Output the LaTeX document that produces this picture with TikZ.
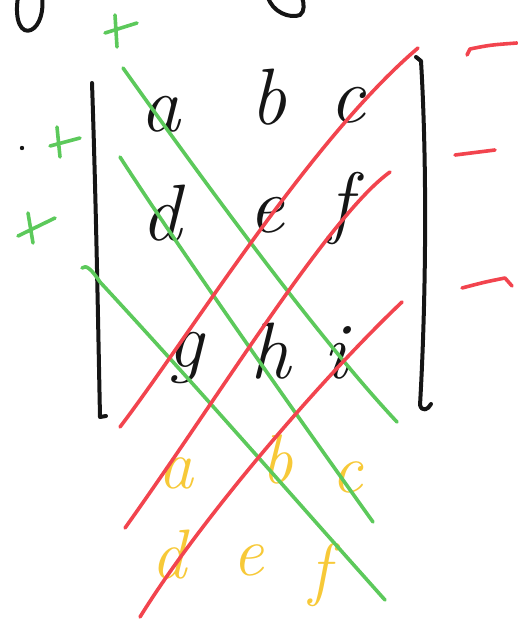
\documentclass[tikz,border=0pt]{standalone}
\usepackage{xcolor}
\definecolor{inkBlack} {HTML}{151515}
\definecolor{inkGreen} {HTML}{5CC95B}
\definecolor{inkRed}   {HTML}{F2444E}
\definecolor{inkYellow}{HTML}{F7C938}
\usetikzlibrary{positioning, calc}
\tikzset{
    pen/.style={line width=4pt, line cap=round, line join=round},
    blackpen/.style={pen, inkBlack},
    greenpen/.style={pen, line width=3.6pt, inkGreen},
    redpen/.style={pen, line width=3.6pt, inkRed},
}

\begin{document}
\begin{tikzpicture}[
    x=1pt, y=-1pt,
    entry/.style={inner sep=0pt, anchor=base, text=inkBlack,
                  font=\fontsize{80}{80}\selectfont\itshape},
    copyentry/.style={entry, text=inkYellow,
                      font=\fontsize{70}{70}\selectfont\itshape},
]
\useasboundingbox (0,0) rectangle (517,620);
% Bits of the line above, cut off by the page.
\draw[blackpen] (18,-3) .. controls (14,22) and (22,34) .. (31,30)
                .. controls (40,26) and (44,10) .. (42,-3);
\draw[blackpen] (268,-3) .. controls (272,12) and (290,19) .. (300,15)
                .. controls (305,11) and (304,4) .. (302,-3);
% The 3x3 matrix.
\node[entry] (ma) at (160,132) {a};
\node[entry] (mb) at (268,125) {b};
\node[entry] (mc) at (347,123) {c};
\node[entry] (md) at (161,240) {d};
\node[entry] (me) at (266,233) {e};
\node[entry] (mf) at (340,228) {f};
\node[entry] (mg) at (185,367) {g};
\node[entry] (mh) at (270,378) {h};
\node[entry] (mi) at (335,378) {i};
% First two rows copied below.
\node[copyentry] (ya) at (176,488) {a};
\node[copyentry] (yb) at (277,483) {b};
\node[copyentry] (yc) at (347,492) {c};
\node[copyentry] (yd) at (169,578) {d};
\node[copyentry] (ye) at (248,575) {e};
\node[copyentry] (yf) at (320,592) {f};
% Determinant bars.
\draw[blackpen] (92,83) .. controls (96,200) and (98,320) .. (100,417) -- (106,416);
\draw[blackpen] (416,57) -- (421,61) .. controls (428,180) and (425,320) .. (420,405)
                .. controls (422,412) and (428,410) .. (431,404);
% Ends of the diagonals.
\coordinate (g1s) at (123,68);  \coordinate (g1e) at (397,422);
\coordinate (g2s) at (120,157); \coordinate (g2e) at (373,522);
\coordinate (g3s) at (82,268);  \coordinate (g3e) at (385,600);
\coordinate (r1s) at (120,427); \coordinate (r1e) at (418,48);
\coordinate (r2s) at (125,528); \coordinate (r2e) at (390,172);
\coordinate (r3s) at (140,617); \coordinate (r3e) at (402,302);
% Green: products taken with +.
\draw[greenpen] (g1s) .. controls (210,190) and (320,340) .. (g1e);
\draw[greenpen] (g2s) .. controls (180,250) and (300,420) .. (g2e);
\draw[greenpen] (g3s) .. controls (86,264) and (92,270) .. (100,282)
                .. controls (200,390) and (300,505) .. (g3e);
% Red: products taken with -.
\draw[redpen] (r1s) .. controls (190,335) and (310,140) .. (r1e);
\draw[redpen] (r2s) .. controls (220,395) and (330,215) .. (r2e);
\draw[redpen] (r3s) .. controls (200,520) and (320,380) .. (r3e);
% Signs.
\draw[greenpen] (105,33) -- (137,23) (115,15) -- (117,47);
\draw[greenpen] (50,146) -- (80,138) (57,127) -- (60,157);
\draw[greenpen] (18,236) -- (55,218) (28,213) -- (33,243);
\fill[inkBlack] (22,148) circle (2.2);
\draw[redpen] (467,55) -- (470,49) .. controls (490,45) .. (517,43);
\draw[redpen] (455,155) -- (495,150);
\draw[redpen] (462,288) .. controls (485,282) .. (505,278) -- (512,286);
\end{tikzpicture}
\end{document}
